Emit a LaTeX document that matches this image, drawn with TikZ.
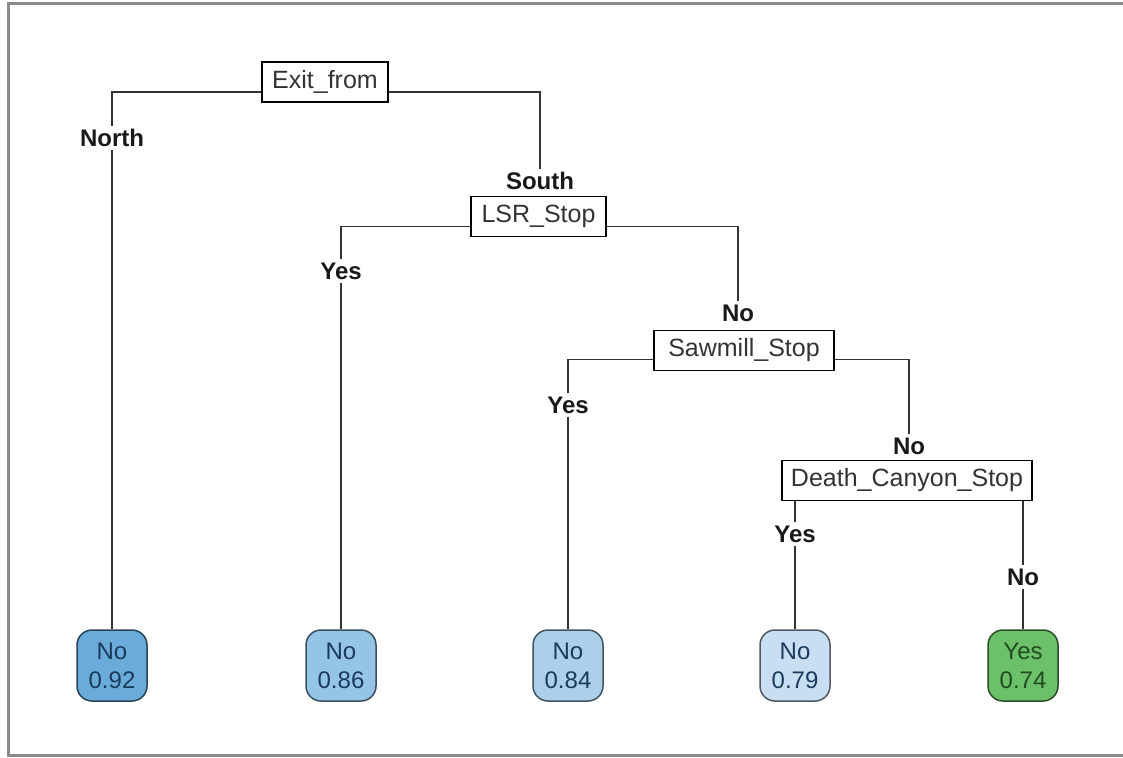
\documentclass[tikz,border=0pt]{standalone}
\usepackage{fontspec}
\setmainfont{Liberation Sans}
\definecolor{leafA}{HTML}{6AABD9}
\definecolor{leafB}{HTML}{94C4E6}
\definecolor{leafC}{HTML}{ACD0EB}
\definecolor{leafD}{HTML}{C8DEF2}
\definecolor{leafE}{HTML}{6CC06A}
\definecolor{navytext}{HTML}{1B3A5C}
\definecolor{greentext}{HTML}{1F4D1F}
\definecolor{framegray}{HTML}{8C8C8C}
\definecolor{linegray}{HTML}{333333}
\tikzset{
  splitbox/.style={draw=black, line width=1.5pt, fill=white, inner xsep=0pt, inner ysep=0pt,
    minimum height=40pt, font=\fontsize{25}{30}\selectfont, text=black!80},
  edgelabel/.style={font=\fontsize{24}{28}\selectfont\bfseries, inner sep=3pt, text=black!90},
  leafbox/.style={draw=#1!40!black, line width=1.5pt, rounded corners=15pt,
    minimum width=70pt, minimum height=71pt, inner sep=0pt, align=center,
    font=\fontsize{24}{29}\selectfont, fill=#1},
  branch/.style={draw=linegray, line width=1.6pt},
}
\begin{document}
\begin{tikzpicture}[x=1pt,y=-1pt]
\useasboundingbox (0,0) rectangle (1123,757);
\fill[white] (0,0) rectangle (1123,757);
% frame
\draw[framegray, line width=3pt] (1123,4) -- (8,4) -- (8,755) -- (1123,755);

% split nodes
\node[splitbox, minimum width=126pt] (exit) at (325,82) {Exit\_from};
\node[splitbox, minimum width=135pt] (lsr) at (538.5,216.5) {LSR\_Stop};
\node[splitbox, minimum width=180pt] (saw) at (744,350.5) {Sawmill\_Stop};
\node[splitbox, minimum width=250pt] (dcs) at (907,480.5) {Death\_Canyon\_Stop};

% edge labels
\node[edgelabel] (lnorth) at (112,138) {North};
\node[edgelabel] (lsouth) at (540,181) {South};
\node[edgelabel] (lyes1) at (341,271) {Yes};
\node[edgelabel] (lno1) at (738,313) {No};
\node[edgelabel] (lyes2) at (568,405) {Yes};
\node[edgelabel] (lno2) at (909,446) {No};
\node[edgelabel] (lyes3) at (795,534) {Yes};
\node[edgelabel] (lno3) at (1023,577) {No};

% leaves
\node[leafbox=leafA, text=navytext] (leaf1) at (112,665.5) {No\\0.92};
\node[leafbox=leafB, text=navytext] (leaf2) at (341,665.5) {No\\0.86};
\node[leafbox=leafC, text=navytext] (leaf3) at (568,665.5) {No\\0.84};
\node[leafbox=leafD, text=navytext] (leaf4) at (795,665.5) {No\\0.79};
\node[leafbox=leafE, text=greentext] (leaf5) at (1023,665.5) {Yes\\0.74};

% branches
\draw[branch] ([yshift=-10pt]exit.west) -| (lnorth.north);
\draw[branch] (lnorth.south) -- (leaf1.north);
\draw[branch] ([yshift=-10pt]exit.east) -| (lsouth.north);

\draw[branch] ([yshift=-10pt]lsr.west) -| (lyes1.north);
\draw[branch] (lyes1.south) -- (leaf2.north);
\draw[branch] ([yshift=-10pt]lsr.east) -| (lno1.north);

\draw[branch] ([yshift=-9pt]saw.west) -| (lyes2.north);
\draw[branch] (lyes2.south) -- (leaf3.north);
\draw[branch] ([yshift=-9pt]saw.east) -| (lno2.north);

\draw[branch] (dcs.south -| lyes3) -- (lyes3.north);
\draw[branch] (lyes3.south) -- (leaf4.north);
\draw[branch] (dcs.south -| lno3) -- (lno3.north);
\draw[branch] (lno3.south) -- (leaf5.north);
\end{tikzpicture}
\end{document}
